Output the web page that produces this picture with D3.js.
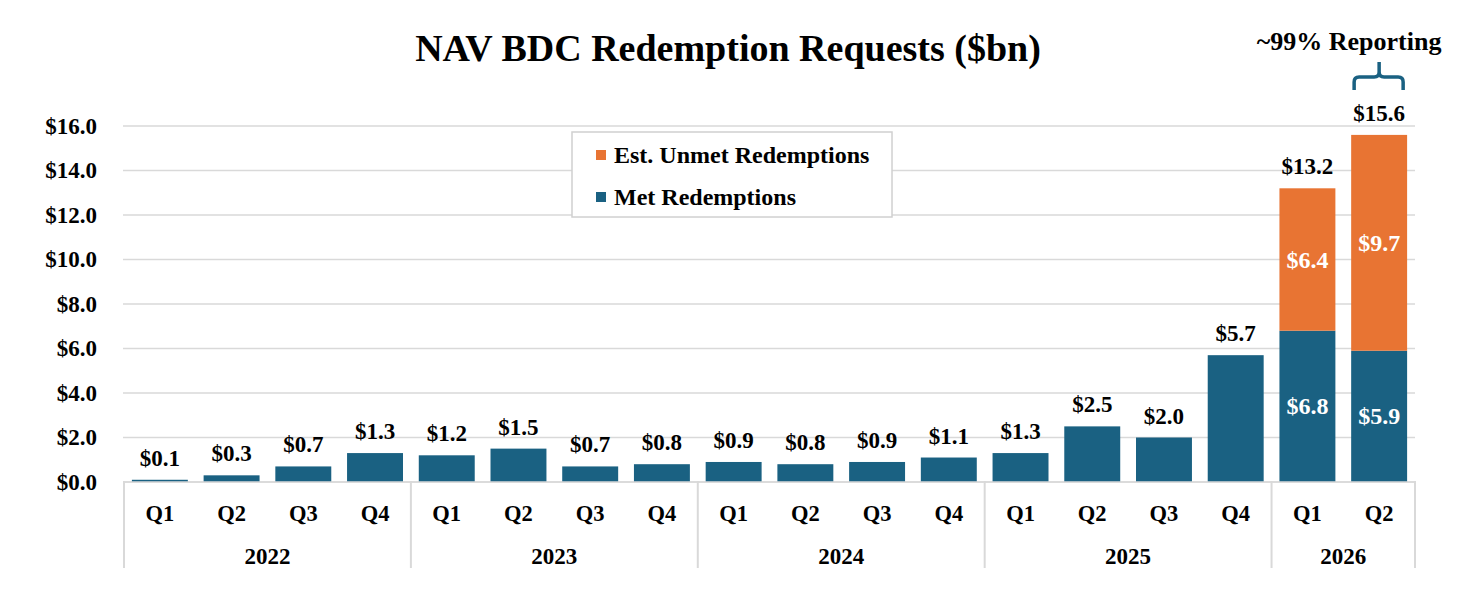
<!DOCTYPE html>
<html>
<head>
<meta charset="utf-8">
<script src="https://cdn.jsdelivr.net/npm/d3@7"></script>
<style>
  body { margin: 0; background: #fff; }
  text { font-family: "Liberation Serif", "Times New Roman", serif; font-weight: bold; }
</style>
</head>
<body>
<div id="chart"></div>
<script>
// data
var years = ["2022", "2023", "2024", "2025", "2026"];
var quarters = ["Q1","Q2","Q3","Q4","Q1","Q2","Q3","Q4","Q1","Q2","Q3","Q4","Q1","Q2","Q3","Q4","Q1","Q2"];
var quarterYears = ["2022","2022","2022","2022","2023","2023","2023","2023","2024","2024","2024","2024","2025","2025","2025","2025","2026","2026"];
var metValues = [0.1,0.3,0.7,1.3,1.2,1.5,0.7,0.8,0.9,0.8,0.9,1.1,1.3,2.5,2.0,5.7,6.8,5.9];
var unmetValues = [0,0,0,0,0,0,0,0,0,0,0,0,0,0,0,0,6.4,9.7];
var yTicks = [0,2,4,6,8,10,12,14,16];

var width = 1476, height = 600;
var margin = {top: 126, right: 61, bottom: 118, left: 124};
var chartWidth = width - margin.left - margin.right;
var chartHeight = height - margin.top - margin.bottom;

var blue = "#1a6182", orange = "#e87433", grid = "#d9d9d9";

var svg = d3.select("#chart").append("svg")
    .attr("width", width)
    .attr("height", height);

var g = svg.append("g")
    .attr("transform", `translate(${margin.left}, ${margin.top})`);

var keys = d3.range(quarters.length);
var x = d3.scaleBand().domain(keys).range([0, chartWidth]).paddingInner(0.22).paddingOuter(0.11);
var y = d3.scaleLinear().domain([0, 16]).range([chartHeight, 0]);

// gridlines
g.selectAll(".grid").data(yTicks).enter().append("line")
    .attr("x1", -1).attr("x2", chartWidth)
    .attr("y1", d => y(d)).attr("y2", d => y(d))
    .attr("stroke", grid).attr("stroke-width", 1.5);

// y axis labels
var yAxis = d3.axisLeft(y).tickValues(yTicks).tickFormat(d => "$" + d3.format(".1f")(d)).tickSize(0).tickPadding(27);
var yg = g.append("g").call(yAxis);
yg.select(".domain").remove();
yg.selectAll("text").attr("font-size", 23).attr("fill", "#000")
    .style("font-family", '"Liberation Serif", serif').style("font-weight", "bold");

// stacked bars
var stackData = keys.map(i => ({met: metValues[i], unmet: unmetValues[i]}));
var series = d3.stack().keys(["met", "unmet"])(stackData);
var colors = {met: blue, unmet: orange};

g.selectAll(".layer").data(series).enter().append("g")
    .attr("fill", d => colors[d.key])
    .selectAll("rect").data(d => d.map((v, i) => ({v: v, i: i}))).enter().append("rect")
    .attr("x", d => x(d.i))
    .attr("width", x.bandwidth())
    .attr("y", d => y(d.v[1]))
    .attr("height", d => y(d.v[0]) - y(d.v[1]));

// labels above bars (totals)
g.selectAll(".total").data(keys).enter().append("text")
    .attr("x", d => x(d) + x.bandwidth() / 2)
    .attr("y", d => y(metValues[d] + unmetValues[d]) - 14)
    .attr("text-anchor", "middle")
    .attr("font-size", 23)
    .text(d => "$" + d3.format(".1f")(metValues[d] + unmetValues[d]));

// labels inside stacked bars
var stacked = keys.filter(i => unmetValues[i] > 0);
g.selectAll(".inMet").data(stacked).enter().append("text")
    .attr("x", d => x(d) + x.bandwidth() / 2)
    .attr("y", d => y(metValues[d] / 2) + 8)
    .attr("text-anchor", "middle").attr("font-size", 24).attr("fill", "#fff")
    .text(d => "$" + d3.format(".1f")(metValues[d]));
g.selectAll(".inUnmet").data(stacked).enter().append("text")
    .attr("x", d => x(d) + x.bandwidth() / 2)
    .attr("y", d => y(metValues[d] + unmetValues[d] / 2) + 8)
    .attr("text-anchor", "middle").attr("font-size", 24).attr("fill", "#fff")
    .text(d => "$" + d3.format(".1f")(unmetValues[d]));

// category axis: quarters + years with separators
var step = x.step();
var x0 = x(0) - x.paddingOuter() * step;
g.append("line").attr("x1", -1).attr("x2", chartWidth).attr("y1", chartHeight).attr("y2", chartHeight)
    .attr("stroke", grid).attr("stroke-width", 1.5);

g.selectAll(".q").data(keys).enter().append("text")
    .attr("x", d => x(d) + x.bandwidth() / 2)
    .attr("y", chartHeight + 39)
    .attr("text-anchor", "middle").attr("font-size", 22.5)
    .text(d => quarters[d]);

var yearSpans = years.map(yr => {
  var idx = keys.filter(i => quarterYears[i] === yr);
  return {year: yr, start: d3.min(idx), end: d3.max(idx)};
});
var edges = yearSpans.map(s => s.start).concat([quarters.length]);
g.selectAll(".sep").data(edges).enter().append("line")
    .attr("x1", d => x0 + d * step).attr("x2", d => x0 + d * step)
    .attr("y1", chartHeight - 1).attr("y2", chartHeight + 86)
    .attr("stroke", grid).attr("stroke-width", 2);

g.selectAll(".yr").data(yearSpans).enter().append("text")
    .attr("x", d => x0 + (d.start + d.end + 1) / 2 * step)
    .attr("y", chartHeight + 82)
    .attr("text-anchor", "middle").attr("font-size", 23)
    .text(d => d.year);

// legend
var legend = svg.append("g").attr("transform", "translate(572, 132)");
legend.append("rect").attr("width", 320).attr("height", 85)
    .attr("fill", "#fff").attr("stroke", "#d0d0d0").attr("stroke-width", 1.5);
var legendItems = [{label: "Est. Unmet Redemptions", color: orange}, {label: "Met Redemptions", color: blue}];
var li = legend.selectAll(".li").data(legendItems).enter().append("g")
    .attr("transform", (d, i) => `translate(24, ${23 + i * 42})`);
li.append("rect").attr("width", 10).attr("height", 10).attr("y", -5).attr("fill", d => d.color);
li.append("text").attr("x", 18).attr("y", 8).attr("font-size", 24).text(d => d.label);

// title
svg.append("text").attr("x", 728).attr("y", 61).attr("text-anchor", "middle")
    .attr("font-size", 38).text("NAV BDC Redemption Requests ($bn)");

// annotation with brace over last bar
var last = quarters.length - 1;
var bx = margin.left + x(last) + x.bandwidth() / 2;
svg.append("text").attr("x", bx - 30).attr("y", 50).attr("text-anchor", "middle")
    .attr("font-size", 26).text("~99% Reporting");
svg.append("path")
    .attr("d", `M${bx - 25},90 V82 Q${bx - 25},77 ${bx - 20},77 H${bx - 5} Q${bx},77 ${bx},72 V62 M${bx},72 Q${bx},77 ${bx + 5},77 H${bx + 19} Q${bx + 24},77 ${bx + 24},82 V90`)
    .attr("fill", "none").attr("stroke", blue).attr("stroke-width", 3.5);
</script>
</body>
</html>
